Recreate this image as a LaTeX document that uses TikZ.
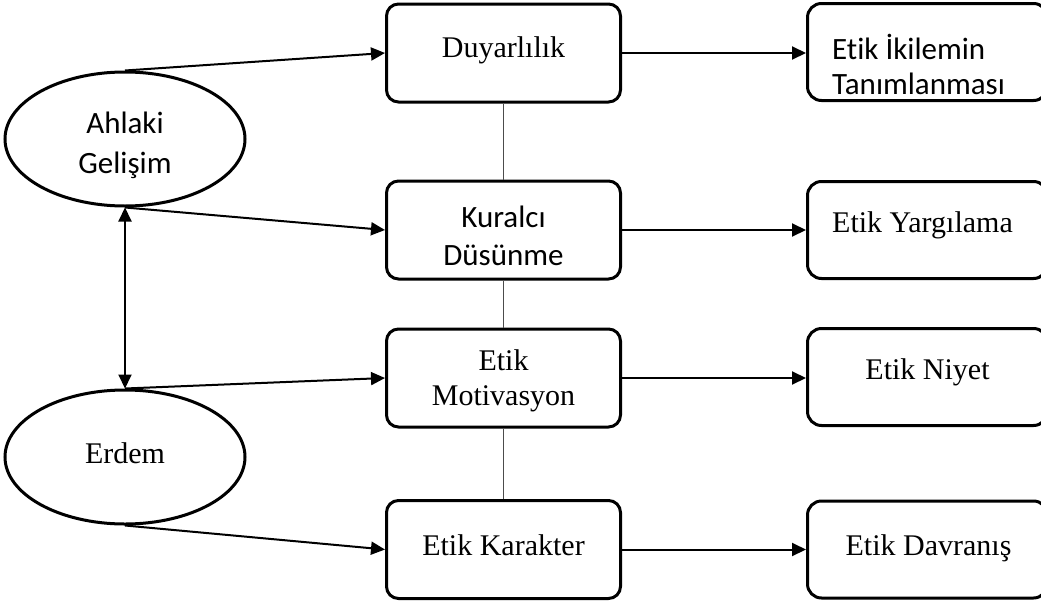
\documentclass[tikz,border=0pt]{standalone}
\usepackage{fontspec}
\setmainfont{Liberation Serif}
\newfontfamily\calibrifont[Ligatures={NoCommon}]{Carlito}
\usetikzlibrary{shapes.geometric,arrows.meta}
\tikzset{
  midbox/.style={draw, line width=3pt, rounded corners=12pt, minimum width=234pt, minimum height=98pt, inner sep=0pt},
  rightbox/.style={draw, line width=3pt, rounded corners=14pt, minimum width=240pt, minimum height=97pt, inner sep=0pt, anchor=west},
  oval/.style={draw, ellipse, line width=3pt, minimum width=240pt, minimum height=134pt, inner sep=0pt},
  arr/.style={line width=2pt, -{Triangle[length=14pt,width=13pt]}},
  darr/.style={line width=2pt, {Triangle[length=14pt,width=13pt]}-{Triangle[length=14pt,width=13pt]}},
  link/.style={line width=1.2pt, draw=black!70},
  serif/.style={inner sep=0pt, align=center, font=\fontsize{30}{35}\selectfont},
  sans/.style={inner sep=0pt, align=center, font=\calibrifont\fontsize{31}{38}\selectfont},
}
\begin{document}
\begin{tikzpicture}[x=1pt,y=-1pt]
\useasboundingbox (0,0) rectangle (1041,605);
\begin{scope}
\clip (0,0) rectangle (1041,605);
% ellipses
\node[oval] (ahl) at (125,139) {};
\node[sans, font=\calibrifont\fontsize{31}{40}\selectfont] (ahltxt) at (125,145) {Ahlaki\\Geli\c{s}im};
\node[oval] (erd) at (125,457) {};
\node[serif] (erdtxt) at (125,453) {Erdem};
% middle column
\node[midbox] (duy) at (503.5,53) {};
\node[serif] (duytxt) at (503.5,50) {Duyarl\i l\i k};
\node[midbox] (kur) at (503.5,230) {};
\node[sans] (kurtxt) at (503.5,236) {Kuralc\i\\D\"us\"unme};
\node[midbox] (mot) at (503.5,378) {};
\node[serif] (mottxt) at (503.5,380.5) {Etik\\Motivasyon};
\node[midbox] (kar) at (503.5,549.5) {};
\node[serif] (kartxt) at (503.5,545) {Etik Karakter};
% right column
\node[rightbox] (iki) at (806,52) {};
\node[sans, align=left, anchor=west, font=\calibrifont\fontsize{31}{35}\selectfont] (ikitxt) at (832,64) {Etik \.Ikilemin\\Tan\i mlanmas\i};
\node[rightbox] (yar) at (806,230) {};
\node[serif] (yartxt) at (922.5,225) {Etik Yarg\i lama};
\node[rightbox] (niy) at (806,377) {};
\node[serif] (niytxt) at (927.5,372) {Etik Niyet};
\node[rightbox] (dav) at (806,549.5) {};
\node[serif] (davtxt) at (928.5,548) {Etik Davran\i\c{s}};
\end{scope}
% vertical links
\draw[link] (duy.south) -- (kur.north);
\draw[link] (kur.south) -- (mot.north);
\draw[link] (mot.south) -- (kar.north);
% arrows from ellipses
\draw[arr] (ahl.north) -- (duy.west);
\draw[arr] (ahl.south) -- (kur.west);
\draw[arr] (erd.north) -- (mot.west);
\draw[arr] (erd.south) -- (kar.west);
\draw[darr] (ahl.south) -- (erd.north);
% arrows to right column
\draw[arr] (duy.east) -- (duy.east -| iki.west);
\draw[arr] (kur.east) -- (kur.east -| yar.west);
\draw[arr] (mot.east) -- (mot.east -| niy.west);
\draw[arr] (kar.east) -- (kar.east -| dav.west);
\end{tikzpicture}
\end{document}
